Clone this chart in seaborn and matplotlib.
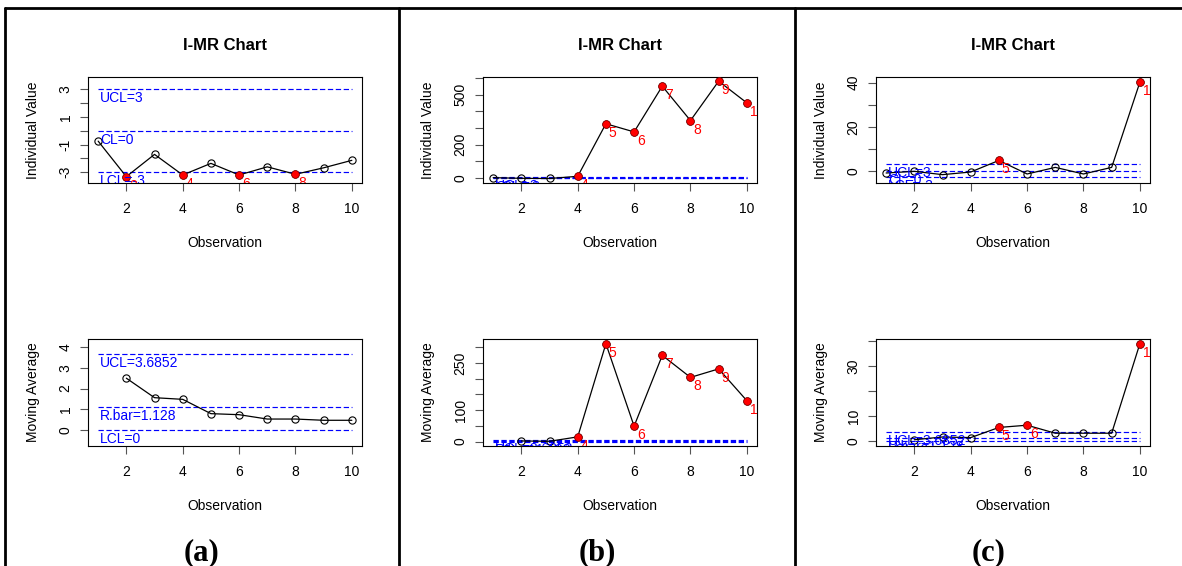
import numpy as np
import pandas as pd
import matplotlib
matplotlib.use("Agg")
import matplotlib.pyplot as plt
import seaborn as sns
from matplotlib.transforms import ScaledTranslation
from matplotlib.lines import Line2D

sns.set_style("ticks")
plt.rcParams['font.family'] = ['Liberation Sans', 'DejaVu Sans']
plt.rcParams['text.color'] = 'black'
plt.rcParams['axes.labelcolor'] = 'black'
plt.rcParams['xtick.color'] = 'black'
plt.rcParams['ytick.color'] = 'black'

# ---------------- data ----------------
obs = [1, 2, 3, 4, 5, 6, 7, 8, 9, 10]
mr_obs = [2, 3, 4, 5, 6, 7, 8, 9, 10]

ind_a = [-0.75, -3.32, -1.71, -3.2, -2.36, -3.2, -2.61, -3.15, -2.68, -2.14]
mr_a = [2.50, 1.56, 1.48, 0.79, 0.74, 0.53, 0.53, 0.47, 0.47]

ind_b = [2, -2, -3, 10, 325, 276, 550, 344, 580, 450]
mr_b = [2, 1, 15, 311, 49, 274, 204, 231, 130]

ind_c = [-1.05, -0.3, -1.8, -0.6, 4.66, -1.5, 1.5, -1.5, 1.5, 40.2]
mr_c = [0.5, 1.6, 1.35, 5.4, 6.3, 3.1, 3.1, 3.1, 38.8]

ind_limits = [3, 0, -3]
ind_limit_labels = ["UCL=3", "CL=0", "LCL=-3"]
mr_limits = [3.6852, 1.128, 0]
mr_limit_labels = ["UCL=3.6852", "R.bar=1.128", "LCL=0"]

x_ticks = [2, 4, 6, 8, 10]
x_ticklabels = ["2", "4", "6", "8", "10"]

ind_a_ticks = [-3, -2, -1, 0, 1, 2, 3]
ind_a_ticklabels = ["-3", "", "-1", "", "1", "", "3"]
mr_a_ticks = [0, 1, 2, 3, 4]
mr_a_ticklabels = ["0", "1", "2", "3", "4"]
ind_b_ticks = [0, 100, 200, 300, 400, 500, 600]
ind_b_ticklabels = ["0", "", "200", "", "", "500", ""]
mr_b_ticks = [0, 50, 100, 150, 200, 250, 300]
mr_b_ticklabels = ["0", "", "100", "", "", "250", ""]
ind_c_ticks = [0, 10, 20, 30, 40]
ind_c_ticklabels = ["0", "", "20", "", "40"]
mr_c_ticks = [0, 10, 20, 30, 40]
mr_c_ticklabels = ["0", "10", "", "30", ""]

title_text = "I-MR Chart"
panel_labels = ["(a)", "(b)", "(c)"]
xlabel_text = "Observation"
ind_ylabel = "Individual Value"
mr_ylabel = "Moving Average"

# ---------------- figure ----------------
W, H = 1182, 566
DPI = 100
fig = plt.figure(figsize=(W / DPI, H / DPI), dpi=DPI)
fig.patch.set_facecolor("white")


def px_axes(left, top, right, bottom):
    return fig.add_axes([left / W, 1 - bottom / H, (right - left) / W, (bottom - top) / H])


def draw(ax, x, y, limits, limit_labels, yticks, yticklabels, ylim, ylabel, ucl, lcl):
    df = pd.DataFrame({"x": x, "y": y})
    sns.lineplot(data=df, x="x", y="y", ax=ax, color="black", lw=0.9,
                 marker="o", markersize=5.2, markerfacecolor="none",
                 markeredgecolor="black", markeredgewidth=0.8,
                 errorbar=None, zorder=2)
    out = df[(df["y"] > ucl) | (df["y"] < lcl)]
    if len(out):
        sns.scatterplot(data=out, x="x", y="y", ax=ax, color="red", s=30,
                        edgecolor="#a00000", linewidth=0.5, zorder=3)
    xmin, xmax = min(obs), max(obs)
    off_blue = ax.transData + ScaledTranslation(2 / DPI, -2 / DPI, fig.dpi_scale_trans)
    for v, lab in zip(limits, limit_labels):
        ax.hlines(v, xmin, xmax, colors="blue", linestyles=(0, (4.5, 2.2)), lw=0.85, zorder=1)
        ax.text(xmin, v, lab, color="blue", fontsize=10, ha="left", va="top",
                transform=off_blue, clip_on=True, zorder=4)
    off_red = ax.transData + ScaledTranslation(3 / DPI, -2 / DPI, fig.dpi_scale_trans)
    for xi, yi in zip(out["x"], out["y"]):
        ax.text(xi, yi, str(int(xi)), color="red", fontsize=10, ha="left", va="top",
                transform=off_red, clip_on=True, zorder=4)

    ax.set_xlim(0.64, 10.36)
    ax.set_ylim(*ylim)
    ax.set_xticks(x_ticks, x_ticklabels)
    ax.set_yticks(yticks, yticklabels)
    ax.tick_params(axis="both", direction="out", length=6, width=0.8, color="#555555",
                   labelsize=10, labelcolor="black")
    ax.tick_params(axis="x", pad=8)
    ax.tick_params(axis="y", pad=5, labelrotation=90)
    for lab in ax.get_yticklabels():
        lab.set_va("center")
    for sp in ax.spines.values():
        sp.set_visible(True)
        sp.set_color("black")
        sp.set_linewidth(0.8)
    ax.set_xlabel(xlabel_text, fontsize=10, color="black")
    ax.set_ylabel(ylabel, fontsize=10, color="black")
    ax.legend_ = None


lefts = [88, 483, 876]
widths = 274
panels = [
    (ind_a, ind_a_ticks, ind_a_ticklabels, (-3.78, 3.89), mr_a, mr_a_ticks, mr_a_ticklabels, (-0.77, 4.39)),
    (ind_b, ind_b_ticks, ind_b_ticklabels, (-30, 605), mr_b, mr_b_ticks, mr_b_ticklabels, (-14, 326)),
    (ind_c, ind_c_ticks, ind_c_ticklabels, (-5.6, 42.6), mr_c, mr_c_ticks, mr_c_ticklabels, (-2.0, 40.7)),
]

for i, (iv, it, itl, iyl, mv, mt, mtl, myl) in enumerate(panels):
    L = lefts[i]
    ax1 = px_axes(L, 77, L + widths, 183)
    draw(ax1, obs, iv, ind_limits, ind_limit_labels, it, itl, iyl, ind_ylabel,
         ind_limits[0], ind_limits[2])
    ax2 = px_axes(L, 339, L + widths, 446)
    draw(ax2, mr_obs, mv, mr_limits, mr_limit_labels, mt, mtl, myl, mr_ylabel,
         mr_limits[0], -1e9)
    for ax, h in ((ax1, 106), (ax2, 107)):
        ax.xaxis.set_label_coords(0.5, -53 / h)
        ax.yaxis.set_label_coords(-48 / widths, 0.5)
    fig.text((L + widths / 2) / W, 1 - 45 / H, title_text, fontsize=12,
             fontweight="bold", ha="center", va="center", color="black")

# panel letters
centers = [201.5, 597.5, 989]
for c, lab in zip(centers, panel_labels):
    fig.text(c / W, 1 - 553 / H, lab, fontsize=22, fontweight="bold", color="black",
             family=["Liberation Serif", "DejaVu Serif"], ha="center", va="center")

# frame lines
lw = 2.0
fig.add_artist(Line2D([5.3 / W, 1.0], [1 - 7.5 / H, 1 - 7.5 / H], transform=fig.transFigure,
                      color="black", lw=lw))
for xp in (5.3, 398.7, 795):
    fig.add_artist(Line2D([xp / W, xp / W], [0, 1 - 7.5 / H], transform=fig.transFigure,
                          color="black", lw=lw))

fig.savefig("out.png", dpi=DPI)
